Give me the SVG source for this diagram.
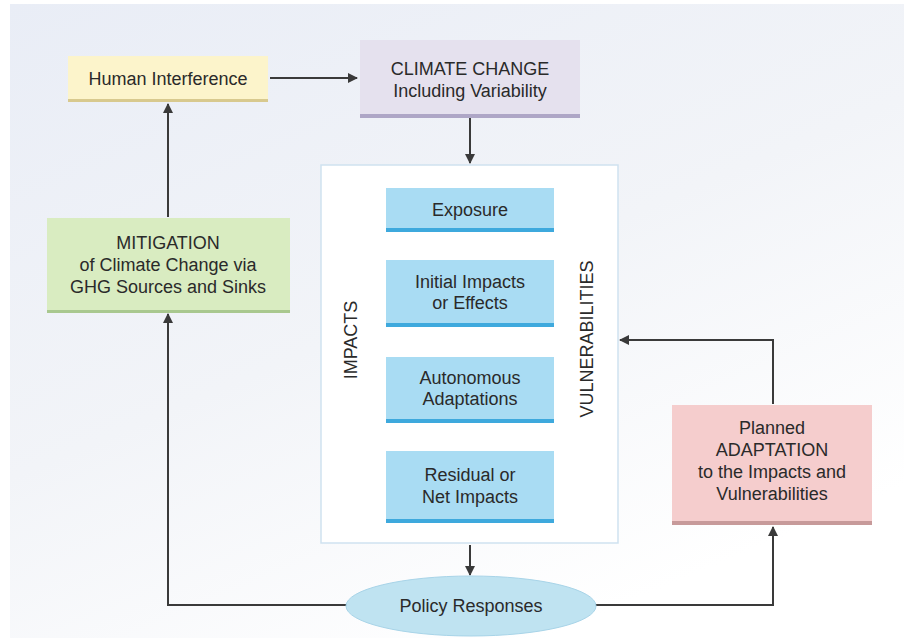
<svg xmlns="http://www.w3.org/2000/svg" width="904" height="638" viewBox="0 0 904 638">
<defs>
<style>
.t{font-family:"Liberation Sans",Arial,sans-serif;font-size:18px;fill:#2a2a2a;text-anchor:middle}
.ln{fill:none;stroke:#3a3a3a;stroke-width:2}
</style>
<marker id="ah" viewBox="0 0 10 10" refX="9" refY="5" markerWidth="5" markerHeight="5" orient="auto" markerUnits="strokeWidth">
<path d="M0,0 L10,5 L0,10 z" fill="#3a3a3a"/>
</marker>
<linearGradient id="bg" x1="0" y1="0" x2="0.6" y2="1">
<stop offset="0" stop-color="#e9edf6"/>
<stop offset="0.55" stop-color="#f2f4f8"/>
<stop offset="1" stop-color="#ffffff"/>
</linearGradient>
</defs>
<rect x="0" y="0" width="904" height="638" fill="#ffffff"/>
<rect x="10" y="4" width="894" height="634" fill="url(#bg)"/>

<g id="connectors">
<line class="ln" x1="270" y1="78" x2="357" y2="78" marker-end="url(#ah)"/>
<line class="ln" x1="470" y1="118" x2="470" y2="163" marker-end="url(#ah)"/>
<line class="ln" x1="168" y1="217" x2="168" y2="104" marker-end="url(#ah)"/>
<polyline class="ln" points="347,605 168,605 168,314" marker-end="url(#ah)"/>
<line class="ln" x1="470" y1="545" x2="470" y2="575" marker-end="url(#ah)"/>
<polyline class="ln" points="594,605 773,605 773,527" marker-end="url(#ah)"/>
<polyline class="ln" points="773,404 773,340 620,340" marker-end="url(#ah)"/>
<line class="ln" x1="470" y1="233" x2="470" y2="258" marker-end="url(#ah)"/>
<line class="ln" x1="470" y1="328" x2="470" y2="355" marker-end="url(#ah)"/>
<line class="ln" x1="470" y1="424" x2="470" y2="448" marker-end="url(#ah)"/>
</g>

<g id="human-interference">
<rect x="68" y="56" width="200" height="44" fill="#fcf4cb"/>
<rect x="68" y="99" width="200" height="3" fill="#d8c98e"/>
<text class="t" x="168" y="85">Human Interference</text>
</g>

<g id="climate-change">
<rect x="360" y="40" width="220" height="76" fill="#e5e1ee"/>
<rect x="360" y="114" width="220" height="4" fill="#aea6c6"/>
<text class="t" x="470" y="75">CLIMATE CHANGE</text>
<text class="t" x="470" y="97">Including Variability</text>
</g>

<g id="impacts-vulnerabilities">
<rect x="321" y="165" width="297" height="378" fill="#ffffff" stroke="#cfe2f0" stroke-width="1.5"/>
<text class="t" transform="translate(357,340) rotate(-90)">IMPACTS</text>
<text class="t" transform="translate(593,339) rotate(-90)">VULNERABILITIES</text>
</g>

<g id="exposure">
<rect x="386" y="188" width="168" height="43" fill="#a9dcf3"/>
<rect x="386" y="228" width="168" height="4" fill="#3ea9dd"/>
<text class="t" x="470" y="216">Exposure</text>
</g>

<g id="initial-impacts">
<rect x="386" y="260" width="168" height="67" fill="#a9dcf3"/>
<rect x="386" y="323" width="168" height="4" fill="#3ea9dd"/>
<text class="t" x="470" y="288">Initial Impacts</text>
<text class="t" x="470" y="309">or Effects</text>
</g>

<g id="autonomous-adaptations">
<rect x="386" y="357" width="168" height="66" fill="#a9dcf3"/>
<rect x="386" y="419" width="168" height="4" fill="#3ea9dd"/>
<text class="t" x="470" y="384">Autonomous</text>
<text class="t" x="470" y="405">Adaptations</text>
</g>

<g id="residual-impacts">
<rect x="386" y="451" width="168" height="72" fill="#a9dcf3"/>
<rect x="386" y="519" width="168" height="4" fill="#3ea9dd"/>
<text class="t" x="470" y="481">Residual or</text>
<text class="t" x="470" y="503">Net Impacts</text>
</g>

<g id="mitigation">
<rect x="47" y="218" width="243" height="94" fill="#d9ecc1"/>
<rect x="47" y="310" width="243" height="3" fill="#a9c88f"/>
<text class="t" x="168" y="249">MITIGATION</text>
<text class="t" x="168" y="271">of Climate Change via</text>
<text class="t" x="168" y="293">GHG Sources and Sinks</text>
</g>

<g id="planned-adaptation">
<rect x="672" y="405" width="200" height="118" fill="#f5cdcd"/>
<rect x="672" y="521" width="200" height="4" fill="#c79a9a"/>
<text class="t" x="772" y="434">Planned</text>
<text class="t" x="772" y="456">ADAPTATION</text>
<text class="t" x="772" y="478">to the Impacts and</text>
<text class="t" x="772" y="500">Vulnerabilities</text>
</g>

<g id="policy-responses">
<ellipse cx="471" cy="606" rx="125" ry="30" fill="#bfe3f1" stroke="#a8d4e8" stroke-width="1"/>
<text class="t" x="471" y="612">Policy Responses</text>
</g>
</svg>
